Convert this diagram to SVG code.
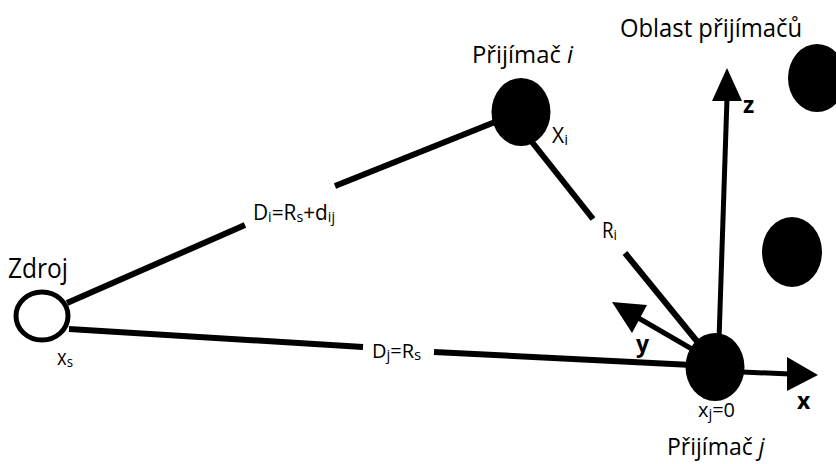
<svg xmlns="http://www.w3.org/2000/svg" width="836" height="464" viewBox="0 0 836 464">
<style>
text{font-family:"Open Sans","Noto Sans","DejaVu Sans",sans-serif;fill:#000}
.ln{stroke:#000;stroke-width:6;fill:none;stroke-linecap:butt}
.ax{stroke:#000;stroke-width:5;fill:none}
.node{fill:#000}
.b{font-weight:bold}
.sub{font-size:15px}
</style>
<rect width="836" height="464" fill="#fff"/>
<g id="connectors">
<line class="ln" x1="67" y1="303" x2="245" y2="225"/>
<line class="ln" x1="335" y1="186" x2="495" y2="122"/>
<line class="ln" x1="528" y1="137" x2="593" y2="219"/>
<line class="ln" x1="625" y1="253" x2="700" y2="345"/>
<line class="ln" x1="69" y1="329" x2="363" y2="347"/>
<line class="ln" x1="434" y1="352" x2="692" y2="365"/>
<line class="ax" x1="742" y1="372" x2="790" y2="374"/>
<polygon points="818,375 787,357 787,391"/>
<line class="ax" x1="697" y1="352" x2="635" y2="316"/>
<polygon points="612,302 647,305 632,333"/>
<line class="ax" x1="719" y1="340" x2="727" y2="98"/>
<polygon points="727,68 712,101 742,101"/>
</g>
<g id="zdroj">
<ellipse cx="42" cy="316" rx="26" ry="24" fill="#fff" stroke="#000" stroke-width="5"/>
<text x="8" y="278" font-size="27" textLength="60" lengthAdjust="spacingAndGlyphs">Zdroj</text>
<text x="57" y="365" font-size="21" textLength="16" lengthAdjust="spacingAndGlyphs">x<tspan class="sub" dy="2">s</tspan></text>
</g>
<g id="prijimac-i">
<ellipse class="node" cx="521" cy="112" rx="29.5" ry="34"/>
<text x="472" y="63" font-size="24" textLength="101" lengthAdjust="spacingAndGlyphs">Přijímač <tspan font-style="italic">i</tspan></text>
<text x="552" y="143" font-size="21">X<tspan class="sub" dy="2">i</tspan></text>
</g>
<g id="prijimac-j">
<ellipse class="node" cx="715" cy="367" rx="29.5" ry="34"/>
<text x="698" y="417" font-size="20" textLength="37" lengthAdjust="spacingAndGlyphs">x<tspan class="sub" dy="2">j</tspan><tspan dy="-2">=0</tspan></text>
<text x="667" y="455" font-size="23">Přijímač <tspan font-style="italic">j</tspan></text>
</g>
<g id="oblast">
<text x="620" y="37" font-size="26" textLength="182" lengthAdjust="spacingAndGlyphs">Oblast přijímačů</text>
<ellipse class="node" cx="817" cy="78" rx="29" ry="34"/>
<ellipse class="node" cx="792" cy="252" rx="30" ry="35"/>
</g>
<g id="labels">
<text x="253" y="220" font-size="22" textLength="82" lengthAdjust="spacingAndGlyphs">D<tspan class="sub" dy="2">i</tspan><tspan dy="-2">=R</tspan><tspan class="sub" dy="2">s</tspan><tspan dy="-2">+d</tspan><tspan class="sub" dy="2">ij</tspan></text>
<text x="602" y="238" font-size="21" textLength="15" lengthAdjust="spacingAndGlyphs">R<tspan class="sub" dy="2">i</tspan></text>
<text x="372" y="358" font-size="20">D<tspan class="sub" dy="2">j</tspan><tspan dy="-2">=R</tspan><tspan class="sub" dy="2">s</tspan></text>
<text class="b" x="797" y="409" font-size="23">x</text>
<text class="b" x="636" y="352" font-size="23">y</text>
<text class="b" x="743" y="113" font-size="23">z</text>
</g>
</svg>
